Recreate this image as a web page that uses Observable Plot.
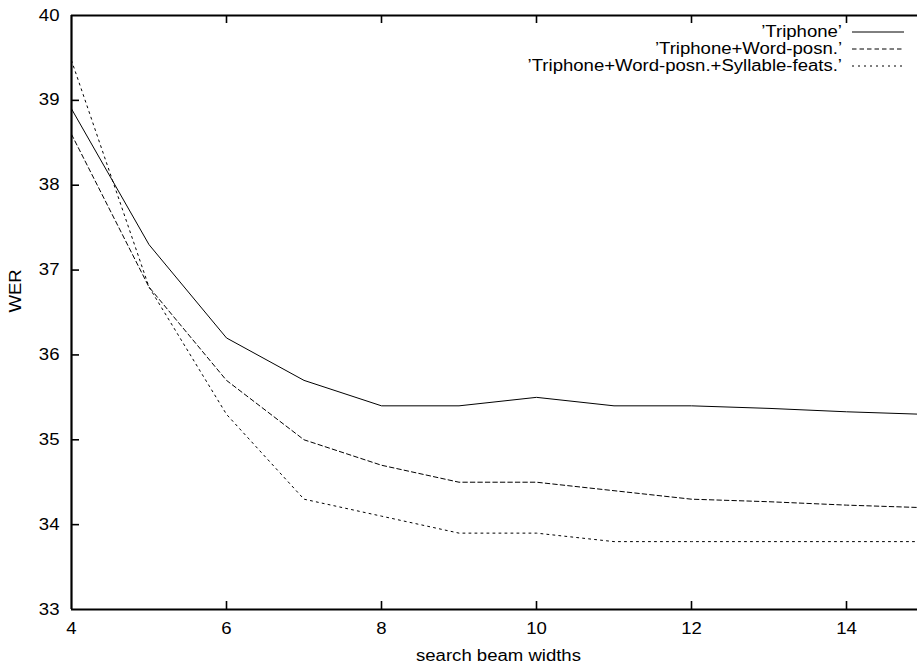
<!DOCTYPE html>
<html>
<head>
<meta charset="utf-8">
<script src="https://cdn.jsdelivr.net/npm/d3@7"></script>
<script src="https://cdn.jsdelivr.net/npm/@observablehq/plot@0.6"></script>
<style>
  html, body { margin: 0; padding: 0; background: #fff; }
</style>
</head>
<body>
<div id="chart"></div>
<script>
// ---- data ----
const beamWidths = [4, 5, 6, 7, 8, 9, 10, 11, 12, 13, 14, 15];
const werTriphone = [38.9, 37.3, 36.2, 35.7, 35.4, 35.4, 35.5, 35.4, 35.4, 35.37, 35.33, 35.3];
const werWordPosn = [38.6, 36.8, 35.7, 35.0, 34.7, 34.5, 34.5, 34.4, 34.3, 34.27, 34.23, 34.2];
const werSyllable = [39.47, 36.8, 35.3, 34.3, 34.1, 33.9, 33.9, 33.8, 33.8, 33.8, 33.8, 33.8];
const seriesNames = ["\u2019Triphone\u2019", "\u2019Triphone+Word-posn.\u2019", "\u2019Triphone+Word-posn.+Syllable-feats.\u2019"];
const xTicks = [4, 6, 8, 10, 12, 14];
const yTicks = [33, 34, 35, 36, 37, 38, 39, 40];
const xLabel = "search beam widths";
const yLabel = "WER";

// ---- styling / layout ----
const W = 917, H = 665;
const M = {left: 71, right: 0, top: 15, bottom: 56};
const X_DOMAIN = [4, 15], X_RANGE = [71, 923.5];
const Y_DOMAIN = [33, 40];
const FONT = "'Liberation Sans', Arial, Helvetica, sans-serif";
const STRETCH = 1.16;
const dashes = [null, "4.5,3", "2,4"];
const legendRowY = [32, 49, 66];
const TICK = 8; // px, inward
const fmt = d => String(d);

// tick length converted to data units so ticks go through Plot's scales
const yUnitsPerPx = (Y_DOMAIN[1] - Y_DOMAIN[0]) / (H - M.top - M.bottom);
const xUnitsPerPx = (X_DOMAIN[1] - X_DOMAIN[0]) / (X_RANGE[1] - X_RANGE[0]);

const seriesValues = [werTriphone, werWordPosn, werSyllable];
const rows = [];
seriesNames.forEach((name, s) =>
  beamWidths.forEach((b, i) => rows.push({series: name, idx: s, beam: b, wer: seriesValues[s][i]}))
);
const innerX = xTicks.filter(t => t > X_DOMAIN[0]);
const innerY = yTicks.filter(t => t > Y_DOMAIN[0] && t < Y_DOMAIN[1]);

const chart = Plot.plot({
  width: W,
  height: H,
  marginLeft: M.left,
  marginRight: M.right,
  marginTop: M.top,
  marginBottom: M.bottom,
  style: {fontFamily: FONT, fontSize: "16px", color: "#000", background: "#fff", overflow: "hidden"},
  x: {domain: X_DOMAIN, range: X_RANGE},
  y: {domain: Y_DOMAIN},
  marks: [
    ...seriesNames.map((name, s) =>
      Plot.line(rows.filter(r => r.idx === s), {
        x: "beam", y: "wer", stroke: "#000", strokeWidth: 1,
        strokeDasharray: dashes[s] ?? undefined, clip: true
      })
    ),
    // inward ticks (gnuplot style): bottom, mirrored top, left
    Plot.ruleX(innerX, {x: d => d, y1: Y_DOMAIN[0], y2: Y_DOMAIN[0] + TICK * yUnitsPerPx, stroke: "#000", strokeWidth: 1.6}),
    Plot.ruleX(innerX, {x: d => d, y1: Y_DOMAIN[1], y2: Y_DOMAIN[1] - TICK * yUnitsPerPx, stroke: "#000", strokeWidth: 1.6}),
    Plot.ruleY(innerY, {y: d => d, x1: X_DOMAIN[0], x2: X_DOMAIN[0] + TICK * xUnitsPerPx, stroke: "#000", strokeWidth: 1.6}),
    // tick labels
    Plot.axisX(xTicks, {anchor: "bottom", tickSize: 0, tickPadding: 12.7, tickFormat: fmt, label: null}),
    Plot.axisY(yTicks, {anchor: "left", tickSize: 0, tickPadding: 12, tickFormat: fmt, label: null}),
    // border
    Plot.ruleX([X_DOMAIN[0]], {stroke: "#000", strokeWidth: 2.2}),
    Plot.ruleY(Y_DOMAIN, {stroke: "#000", strokeWidth: 2.2}),
    Plot.text([xLabel], {frameAnchor: "bottom", lineAnchor: "bottom", dy: 51.5, dx: 4, fill: "#000"}),
    Plot.text([yLabel], {frameAnchor: "left", rotate: -90, lineAnchor: "middle", dx: -55.7, fill: "#000"})
  ]
});

const svg = d3.select(chart.tagName.toLowerCase() === "svg" ? chart : chart.querySelector("svg"));

// legend (key) in the top-right corner, like gnuplot
const key = svg.append("g").attr("class", "key");
seriesNames.forEach((name, s) => {
  key.append("text")
    .attr("transform", `translate(842,${legendRowY[s]})`)
    .attr("text-anchor", "end")
    .attr("y", "0.32em")
    .attr("fill", "#000")
    .style("font-family", FONT)
    .style("font-size", "16px")
    .text(name);
  key.append("line")
    .attr("x1", 852).attr("x2", 904)
    .attr("y1", legendRowY[s]).attr("y2", legendRowY[s])
    .attr("stroke", "#000").attr("stroke-width", 1)
    .attr("stroke-dasharray", dashes[s]);
});

// gnuplot's PostScript font is horizontally wider: stretch every text about its anchor
svg.selectAll("text").each(function () {
  const t = this.getAttribute("transform") || "";
  this.setAttribute("transform", `${t} scale(${STRETCH},1)`);
});

document.getElementById("chart").appendChild(chart);
</script>
</body>
</html>
